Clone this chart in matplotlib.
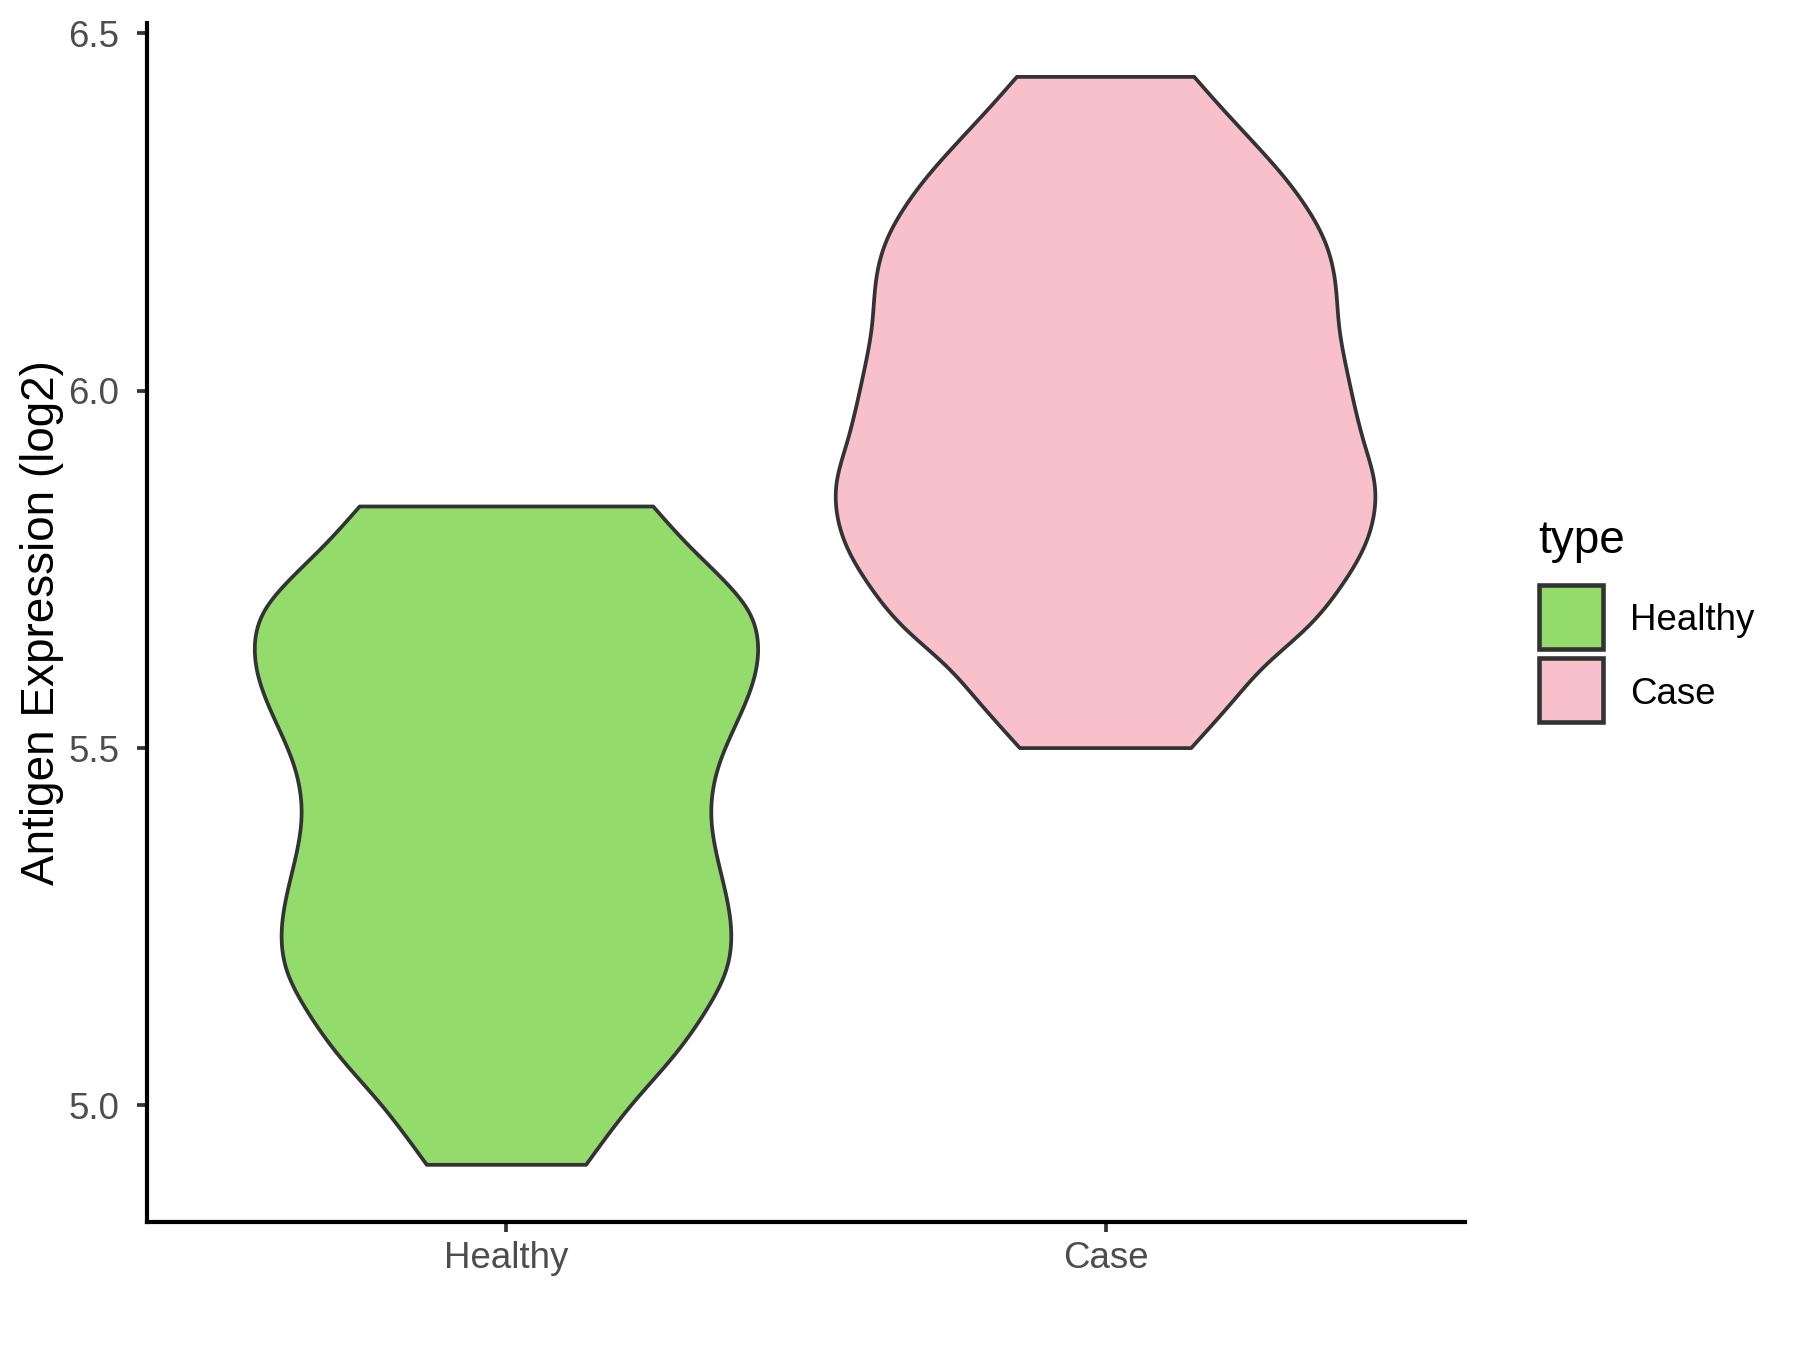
import numpy as np
import matplotlib
matplotlib.use("Agg")
import matplotlib.pyplot as plt
from matplotlib.patches import Rectangle, Polygon

plt.rcParams['font.family'] = ['Liberation Sans', 'DejaVu Sans']

categories = ["Healthy", "Case"]
colors = ["#93DC6B", "#F7C0CB"]
y_ticks = [5.0, 5.5, 6.0, 6.5]

# violin outline profiles: expression value -> half width (x units)
healthy_y = [5.838, 5.782, 5.731, 5.693, 5.642, 5.600, 5.544, 5.479, 5.405,
             5.315, 5.246, 5.190, 5.134, 5.068, 5.003, 4.956, 4.917]
healthy_hw = [0.245, 0.306, 0.367, 0.403, 0.420, 0.414, 0.389, 0.356, 0.342,
              0.361, 0.375, 0.367, 0.334, 0.278, 0.211, 0.167, 0.133]
case_y = [6.439, 6.402, 6.351, 6.304, 6.253, 6.211, 6.160, 6.090, 6.020,
          5.926, 5.870, 5.833, 5.782, 5.726, 5.670, 5.614, 5.563, 5.500]
case_hw = [0.148, 0.187, 0.243, 0.293, 0.338, 0.365, 0.382, 0.390, 0.405,
           0.432, 0.449, 0.449, 0.432, 0.393, 0.338, 0.265, 0.210, 0.143]

profiles = [(healthy_y, healthy_hw), (case_y, case_hw)]


def natural_spline(x, y, xs):
    # natural cubic spline through (x, y), evaluated at xs (for a smooth outline)
    x = np.asarray(x, float)
    y = np.asarray(y, float)
    n = len(x)
    h = np.diff(x)
    A = np.zeros((n, n))
    b = np.zeros(n)
    A[0, 0] = A[-1, -1] = 1.0
    for i in range(1, n - 1):
        A[i, i - 1] = h[i - 1]
        A[i, i] = 2 * (h[i - 1] + h[i])
        A[i, i + 1] = h[i]
        b[i] = 6 * ((y[i + 1] - y[i]) / h[i] - (y[i] - y[i - 1]) / h[i - 1])
    M = np.linalg.solve(A, b)
    idx = np.clip(np.searchsorted(x, xs) - 1, 0, n - 2)
    x0, x1 = x[idx], x[idx + 1]
    hh = x1 - x0
    t0 = x1 - xs
    t1 = xs - x0
    return (M[idx] * t0 ** 3 / (6 * hh) + M[idx + 1] * t1 ** 3 / (6 * hh)
            + (y[idx] / hh - M[idx] * hh / 6) * t0
            + (y[idx + 1] / hh - M[idx + 1] * hh / 6) * t1)


fig = plt.figure(figsize=(6, 4.5), dpi=300)
ax = fig.add_axes([147 / 1800, 1 - 1221.5 / 1350, (1465 - 147) / 1800, (1221.5 - 23) / 1350])

for i, ((ys, hws), col) in enumerate(zip(profiles, colors)):
    c = i + 1
    ys = np.array(ys)[::-1]
    hws = np.array(hws)[::-1]
    yy = np.linspace(ys[0], ys[-1], 400)
    ww = natural_spline(ys, hws, yy)
    xs = np.concatenate([c - ww, (c + ww)[::-1]])
    yv = np.concatenate([yy, yy[::-1]])
    ax.add_patch(Polygon(np.column_stack([xs, yv]), closed=True, facecolor=col,
                         edgecolor="#333333", linewidth=0.9, joinstyle="round", zorder=2))

ax.set_xlim(0.4, 2.6)
ax.set_ylim(4.8377, 6.5144)
ax.set_xticks([1, 2])
ax.set_xticklabels(categories)
ax.set_yticks(y_ticks)
ax.set_yticklabels([f"{v:.1f}" for v in y_ticks])
for s in ["top", "right"]:
    ax.spines[s].set_visible(False)
for s in ["left", "bottom"]:
    ax.spines[s].set_linewidth(1.0)
    ax.spines[s].set_color("black")
ax.tick_params(axis="both", length=2.4, width=0.9, color="#333333",
               labelcolor="#4D4D4D", labelsize=8.8)
ax.tick_params(axis="y", pad=4.2)
ax.tick_params(axis="x", pad=2.2)
ax.set_ylabel("Antigen Expression (log2)", fontsize=11, color="black", labelpad=1.0)

# legend
fig.text(1538 / 1800, 1 - 541 / 1350, "type", fontsize=11, ha="left", va="center")
key_tops = [584, 657]
for kt, col, lab in zip(key_tops, colors, categories):
    fig.patches.append(Rectangle((1539 / 1800, 1 - (kt + 65) / 1350), 64 / 1800, 64 / 1350,
                                 transform=fig.transFigure, facecolor=col,
                                 edgecolor="#333333", linewidth=1.1))
    fig.text(1630 / 1800, 1 - (kt + 37) / 1350, lab, fontsize=8.8, ha="left", va="center")

fig.savefig("out.png", dpi=300, facecolor="white")
